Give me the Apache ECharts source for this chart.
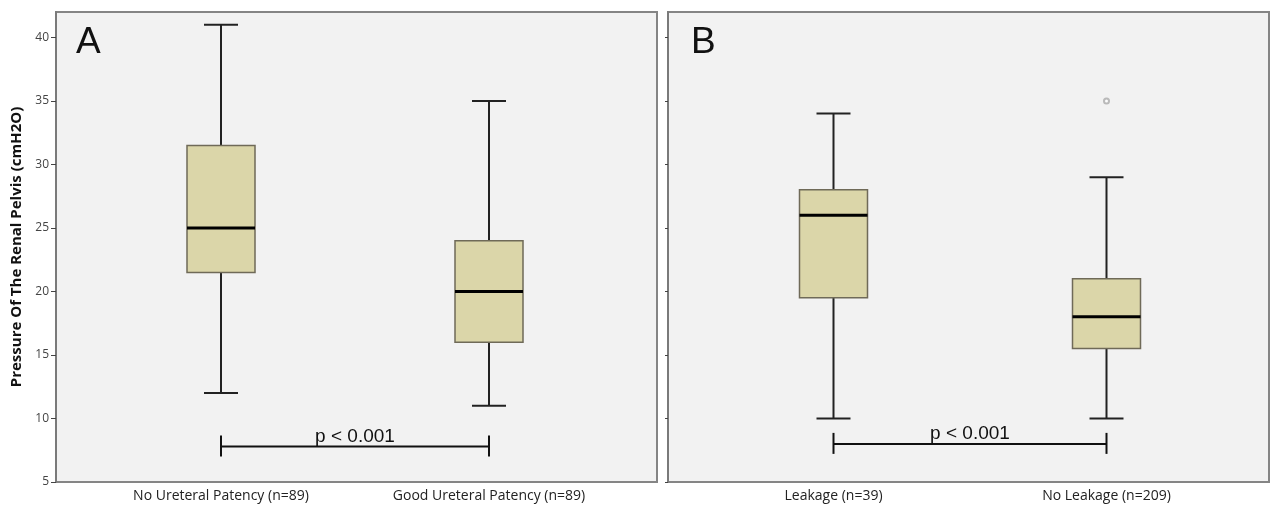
<!DOCTYPE html>
<html>
<head>
<meta charset="utf-8">
<script src="https://cdn.jsdelivr.net/npm/echarts@6/dist/echarts.min.js"></script>
<style>
  html, body { margin: 0; background: #fff; }
  #chart { width: 1271px; height: 512px; }
</style>
</head>
<body>
<div id="chart"></div>
<script>
// box statistics: [lower whisker, Q1, median, Q3, upper whisker]
const groupsA = ["No Ureteral Patency (n=89)", "Good Ureteral Patency (n=89)"];
const statsA = [
  [12, 21.5, 25, 31.5, 41],
  [11, 16, 20, 24, 35]
];
const groupsB = ["Leakage (n=39)", "No Leakage (n=209)"];
const statsB = [
  [10, 19.5, 26, 28, 34],
  [10, 15.5, 18, 21, 29]
];
const outliersB = [[1, 35]];
const yTicks = [5, 10, 15, 20, 25, 30, 35, 40];
const pText = "p < 0.001";
const pLevelA = 7.8;
const pLevelB = 8.0;

const FONT = "Open Sans";
const yMin = 5, yMax = 42;

function renderBox(params, api) {
  const i = api.value(0);
  const lo = api.coord([i, api.value(1)]);
  const q1 = api.coord([i, api.value(2)]);
  const md = api.coord([i, api.value(3)]);
  const q3 = api.coord([i, api.value(4)]);
  const hi = api.coord([i, api.value(5)]);
  const cx = lo[0];
  const hw = 34, cw = 17;
  const wStyle = { stroke: "#222", lineWidth: 2 };
  return {
    type: "group",
    children: [
      { type: "line", shape: { x1: cx, y1: lo[1], x2: cx, y2: q1[1] }, style: wStyle },
      { type: "line", shape: { x1: cx, y1: q3[1], x2: cx, y2: hi[1] }, style: wStyle },
      { type: "line", shape: { x1: cx - cw, y1: lo[1], x2: cx + cw, y2: lo[1] }, style: wStyle },
      { type: "line", shape: { x1: cx - cw, y1: hi[1], x2: cx + cw, y2: hi[1] }, style: wStyle },
      {
        type: "rect",
        shape: { x: cx - hw, y: q3[1], width: hw * 2, height: q1[1] - q3[1] },
        style: { fill: "#dbd6a9", stroke: "#6f6a58", lineWidth: 1.5 }
      },
      { type: "line", shape: { x1: cx - hw, y1: md[1], x2: cx + hw, y2: md[1] }, style: { stroke: "#000", lineWidth: 3 } }
    ]
  };
}

function renderBracket(params, api) {
  const a = api.coord([api.value(0), api.value(2)]);
  const b = api.coord([api.value(1), api.value(2)]);
  const s = { stroke: "#111", lineWidth: 2 };
  return {
    type: "group",
    children: [
      { type: "line", shape: { x1: a[0], y1: a[1], x2: b[0], y2: b[1] }, style: s },
      { type: "line", shape: { x1: a[0], y1: a[1] - 11, x2: a[0], y2: a[1] + 10 }, style: s },
      { type: "line", shape: { x1: b[0], y1: b[1] - 11, x2: b[0], y2: b[1] + 10 }, style: s },
      {
        type: "text",
        x: (a[0] + b[0]) / 2,
        y: a[1] - 10,
        style: { text: pText, fontSize: 19, fontFamily: "Liberation Sans", fill: "#111", align: "center", verticalAlign: "middle" }
      }
    ]
  };
}

const frameGrid = { show: true, backgroundColor: "#f2f2f2", borderColor: "#858585", borderWidth: 2, top: 12, bottom: 30 };

const option = {
  animation: false,
  backgroundColor: "#fff",
  textStyle: { fontFamily: FONT },
  graphic: [
    { type: "text", left: 76, top: 24, style: { text: "A", fontSize: 37, fontFamily: "Liberation Sans", fill: "#111" } },
    { type: "text", left: 691, top: 24, style: { text: "B", fontSize: 37, fontFamily: "Liberation Sans", fill: "#111" } }
  ],
  grid: [
    Object.assign({}, frameGrid, { left: 56, right: 614 }),
    { left: 87, right: 648, top: 12, bottom: 30 },
    Object.assign({}, frameGrid, { left: 668, right: 2 }),
    { left: 697, right: 28, top: 12, bottom: 30 }
  ],
  xAxis: [
    { gridIndex: 0, type: "value", show: false },
    {
      gridIndex: 1, type: "category", data: groupsA,
      axisLine: { show: false },
      axisTick: { alignWithLabel: true, length: 6, lineStyle: { color: "#555" } },
      axisLabel: { color: "#222", fontSize: 14, margin: 7 }
    },
    { gridIndex: 2, type: "value", show: false },
    {
      gridIndex: 3, type: "category", data: groupsB,
      axisLine: { show: false },
      axisTick: { alignWithLabel: true, length: 6, lineStyle: { color: "#555" } },
      axisLabel: { color: "#222", fontSize: 14, margin: 7 }
    }
  ],
  yAxis: [
    {
      gridIndex: 0, type: "value", min: yMin, max: yMax,
      name: "Pressure Of The Renal Pelvis (cmH2O)",
      nameLocation: "middle", nameGap: 32, nameRotate: 90,
      nameTextStyle: { fontSize: 15, fontWeight: "bold", color: "#111" },
      axisLine: { show: true, lineStyle: { color: "#7a7a7a", width: 2 } },
      axisTick: { show: true, length: 5, customValues: yTicks, lineStyle: { color: "#444" } },
      axisLabel: { color: "#444", fontSize: 12, margin: 7, customValues: yTicks },
      splitLine: { show: false }
    },
    { gridIndex: 1, type: "value", min: yMin, max: yMax, show: false },
    {
      gridIndex: 2, type: "value", min: yMin, max: yMax,
      axisLine: { show: true, lineStyle: { color: "#7a7a7a", width: 2 } },
      axisTick: { show: true, length: 3, customValues: yTicks, lineStyle: { color: "#444" } },
      axisLabel: { show: false },
      splitLine: { show: false }
    },
    { gridIndex: 3, type: "value", min: yMin, max: yMax, show: false }
  ],
  series: [
    {
      type: "custom", xAxisIndex: 1, yAxisIndex: 1,
      renderItem: renderBox,
      encode: { x: 0, y: [1, 2, 3, 4, 5] },
      data: statsA.map((s, i) => [i].concat(s))
    },
    {
      type: "custom", xAxisIndex: 3, yAxisIndex: 3,
      renderItem: renderBox,
      encode: { x: 0, y: [1, 2, 3, 4, 5] },
      data: statsB.map((s, i) => [i].concat(s))
    },
    {
      type: "custom", xAxisIndex: 1, yAxisIndex: 1,
      renderItem: renderBracket,
      encode: { x: [0, 1], y: 2 },
      data: [[0, 1, pLevelA]]
    },
    {
      type: "custom", xAxisIndex: 3, yAxisIndex: 3,
      renderItem: renderBracket,
      encode: { x: [0, 1], y: 2 },
      data: [[0, 1, pLevelB]]
    },
    {
      type: "scatter", xAxisIndex: 3, yAxisIndex: 3,
      symbol: "emptyCircle", symbolSize: 5,
      itemStyle: { color: "#aaa", borderColor: "#999", borderWidth: 1 },
      data: outliersB
    }
  ]
};

const chart = echarts.init(document.getElementById("chart"));
chart.setOption(option);
</script>
</body>
</html>
